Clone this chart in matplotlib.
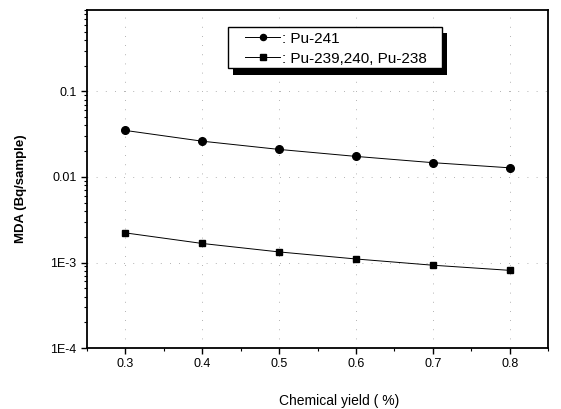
import numpy as np
import matplotlib
matplotlib.use('Agg')
import matplotlib.pyplot as plt
from matplotlib.patches import Rectangle
from matplotlib.ticker import FixedLocator, MultipleLocator, LogLocator, NullFormatter

plt.rcParams['font.family'] = ['Liberation Sans', 'DejaVu Sans']

yield_pct = [0.3, 0.4, 0.5, 0.6, 0.7, 0.8]
mda_pu241 = [0.035, 0.0262, 0.021, 0.0174, 0.0147, 0.0128]
mda_pu239 = [0.00222, 0.00167, 0.00133, 0.0011, 0.00093, 0.00081]

ytick_vals = [1e-4, 1e-3, 0.01, 0.1]
ytick_labels = ['1E-4', '1E-3', '0.01', '0.1']

fig = plt.figure(figsize=(5.61, 4.09), dpi=100)
ax = fig.add_axes([0.155, 0.149, 0.822, 0.827])

ax.plot(yield_pct, mda_pu241, color='black', lw=0.7, marker='o', ms=5.5,
        label=': Pu-241')
ax.plot(yield_pct, mda_pu239, color='black', lw=0.7, marker='s', ms=5,
        label=': Pu-239,240, Pu-238')

ax.set_yscale('log')
ax.set_xlim(0.25, 0.85)
ax.set_ylim(1e-4, 0.9)

ax.xaxis.set_major_locator(MultipleLocator(0.1))
ax.xaxis.set_minor_locator(MultipleLocator(0.05))
ax.yaxis.set_major_locator(FixedLocator(ytick_vals))
ax.set_yticklabels(ytick_labels)
ax.yaxis.set_minor_locator(LogLocator(base=10, subs=np.arange(2, 10)))
ax.yaxis.set_minor_formatter(NullFormatter())

ax.tick_params(which='major', direction='out', length=4, width=1, labelsize=9)
ax.tick_params(which='minor', direction='out', length=2.5, width=0.8)
for s in ax.spines.values():
    s.set_linewidth(1.3)

ax.grid(True, which='major', color='#999999', linestyle=(0, (1, 10)), lw=0.6)

ax.set_xlabel('Chemical yield ( %)', fontsize=10)
ax.xaxis.set_label_coords(0.547, -0.135)
ax.set_ylabel('MDA (Bq/sample)', fontsize=9.5, fontweight='bold')
ax.yaxis.set_label_coords(-0.13, 0.47)

# legend box with a solid drop shadow, drawn by hand
shadow = Rectangle((0.317, 0.808), 0.464, 0.122, transform=ax.transAxes,
                   facecolor='black', edgecolor='none', zorder=4, clip_on=False)
box = Rectangle((0.306, 0.828), 0.464, 0.122, transform=ax.transAxes,
                facecolor='white', edgecolor='black', lw=1.0, zorder=5, clip_on=False)
ax.add_patch(shadow)
ax.add_patch(box)

leg = ax.legend(loc='center left', bbox_to_anchor=(0.343, 0.885), fontsize=11,
                handlelength=2.3, handletextpad=0.1, labelspacing=0.4,
                borderpad=0, borderaxespad=0, frameon=False, markerscale=0.8)
leg.set_zorder(6)

plt.savefig('out.png', dpi=100)
